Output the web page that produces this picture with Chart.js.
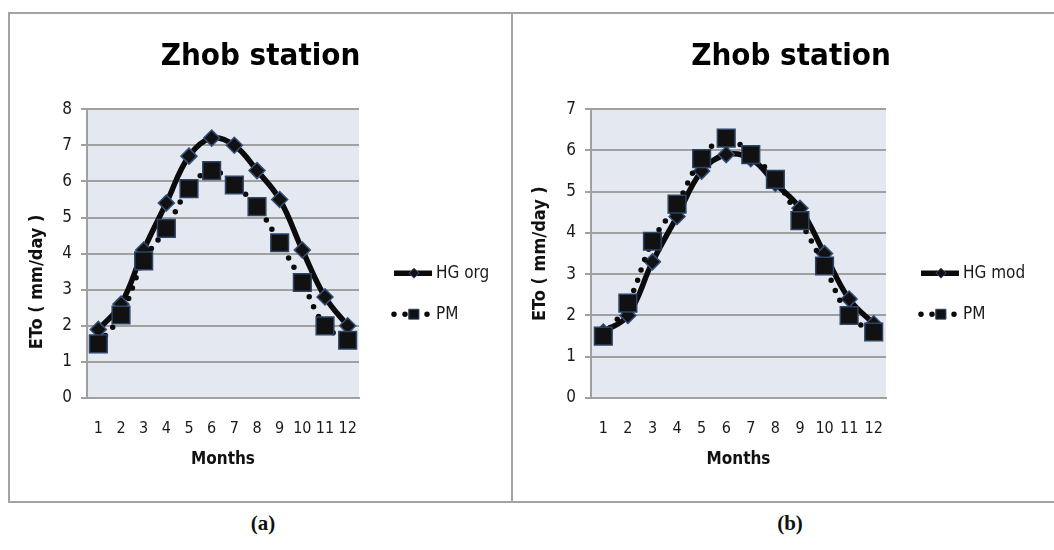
<!DOCTYPE html>
<html>
<head>
<meta charset="utf-8">
<title>Zhob station</title>
<script src="https://cdn.jsdelivr.net/npm/chart.js@4.4.1/dist/chart.umd.min.js"></script>
<style>
  body { margin: 0; background: #fff; width: 1054px; height: 550px; overflow: hidden; position: relative; }
  .frame { position: absolute; left: 8px; top: 12px; width: 1100px; height: 491px; border: 2px solid #a3a3a3; box-sizing: border-box; }
  .divider { position: absolute; left: 511px; top: 12px; width: 2px; height: 491px; background: #a3a3a3; }
  canvas { position: absolute; top: 14px; }
  #chartA { left: 10px; }
  #chartB { left: 513px; }
  .cap { position: absolute; top: 511px; font: bold 21px 'Liberation Serif', 'DejaVu Serif', serif; color: #111; transform: translateX(-50%); }
</style>
</head>
<body>
<div class="frame"></div>
<div class="divider"></div>
<canvas id="chartA" width="501" height="487"></canvas>
<canvas id="chartB" width="556" height="487"></canvas>
<div class="cap" style="left:263px">(a)</div>
<div class="cap" style="left:790px">(b)</div>

<script>
const months = ['1', '2', '3', '4', '5', '6', '7', '8', '9', '10', '11', '12']

// ETo (mm/day)
const hgOrg = [1.9, 2.6, 4.1, 5.4, 6.7, 7.2, 7.0, 6.3, 5.5, 4.1, 2.8, 2.0]
const hgMod = [1.6, 2.0, 3.3, 4.4, 5.5, 5.9, 5.8, 5.2, 4.6, 3.5, 2.4, 1.8]
const pm = [1.5, 2.3, 3.8, 4.7, 5.8, 6.3, 5.9, 5.3, 4.3, 3.2, 2.0, 1.6]

const yMaxA = 8
const yMaxB = 7

const FONT = "'Liberation Sans Narrow', 'DejaVu Sans Condensed', 'Open Sans', sans-serif"
const GRID = '#a0a0a0'

// light blue-grey plot background
const plotBg = {
    id: 'plotBg',
    beforeDraw(chart) {
        const {ctx, chartArea: a} = chart
        ctx.save()
        ctx.fillStyle = '#e4e8f1'
        ctx.fillRect(a.left, a.top, a.right - a.left, a.bottom - a.top)
        ctx.restore()
    },
}

// Excel style legend on the right: line sample + marker + label
const sideLegend = {
    id: 'sideLegend',
    afterDraw(chart, args, opts) {
        const {ctx, chartArea: a} = chart
        const x0 = a.right + opts.gap
        chart.data.datasets.forEach((ds, i) => {
            const y = a.top + opts.firstRow + i * opts.rowGap
            ctx.save()
            ctx.strokeStyle = ds.borderColor
            ctx.lineWidth = ds.borderWidth
            ctx.lineCap = ds.borderCapStyle || 'butt'
            ctx.setLineDash(ds.borderDash || [])
            ctx.beginPath()
            ctx.moveTo(x0 + 2, y)
            ctx.lineTo(x0 + 40, y)
            ctx.stroke()
            ctx.setLineDash([])
            ctx.fillStyle = ds.pointBackgroundColor
            ctx.strokeStyle = ds.pointBorderColor
            ctx.lineWidth = 1
            Chart.helpers.drawPoint(ctx, {pointStyle: ds.pointStyle, radius: ds.legendRadius, rotation: 0, borderWidth: 1}, x0 + 22, y)
            ctx.fillStyle = '#1a1a1a'
            ctx.font = '17px ' + FONT
            ctx.textBaseline = 'middle'
            ctx.fillText(ds.label, x0 + 44, y)
            ctx.restore()
        })
    },
}

function makeChart(id, hgLabel, hgData, yMax, yTitle, yWidth, rightPad) {
    const canvas = document.getElementById(id)
    return new Chart(canvas, {
        type: 'line',
        data: {
            labels: months,
            datasets: [
                {
                    label: hgLabel,
                    data: hgData,
                    borderColor: '#0b0b0b',
                    borderWidth: 5.5,
                    tension: 0.4,
                    pointStyle: 'rectRot',
                    pointRadius: 8,
                    pointBackgroundColor: '#111',
                    pointBorderColor: '#34507a',
                    pointBorderWidth: 1.5,
                    legendRadius: 5,
                    order: 1,
                },
                {
                    label: 'PM',
                    data: pm,
                    borderColor: '#0b0b0b',
                    borderWidth: 5.5,
                    borderDash: [0, 11],
                    borderCapStyle: 'round',
                    tension: 0.4,
                    pointStyle: 'rect',
                    pointRadius: 12.5,
                    pointBackgroundColor: '#111',
                    pointBorderColor: '#2d4466',
                    pointBorderWidth: 1.5,
                    legendRadius: 7,
                    order: 0,
                },
            ],
        },
        options: {
            responsive: false,
            animation: false,
            layout: {padding: 0},
            plugins: {
                legend: {display: false},
                tooltip: {enabled: false},
                title: {
                    display: true,
                    text: 'Zhob station',
                    color: '#000',
                    font: {family: FONT, size: 31, weight: 'bold'},
                    padding: {top: 24, bottom: 34},
                },
                sideLegend: {gap: 33, firstRow: 164, rowGap: 41},
            },
            scales: {
                x: {
                    offset: true,
                    grid: {display: false, drawTicks: false},
                    border: {display: true, color: GRID, width: 2},
                    ticks: {color: '#1a1a1a', font: {family: FONT, size: 16}, padding: 21, maxRotation: 0, autoSkip: false},
                    title: {display: true, text: 'Months', color: '#111', font: {family: FONT, size: 17, weight: 'bold'}, padding: {top: 0, bottom: 31}},
                    afterFit(scale) { scale.height = 103 },
                },
                y: {
                    min: 0,
                    max: yMax,
                    grid: {color: GRID, lineWidth: 2, tickLength: 6},
                    border: {display: true, color: GRID, width: 2},
                    ticks: {stepSize: 1, color: '#1a1a1a', font: {family: FONT, size: 17}, padding: 9},
                    title: {display: true, text: yTitle, color: '#111', font: {family: FONT, size: 18, weight: 'bold'}, padding: {top: 17, bottom: 0}},
                    afterFit(scale) { scale.width = yWidth },
                },
                // empty right-hand box that leaves room for the legend
                legendSpace: {
                    type: 'linear',
                    position: 'right',
                    grid: {display: false, drawTicks: false},
                    border: {display: false},
                    ticks: {display: false},
                    afterFit(scale) { scale.width = rightPad },
                },
            },
        },
        plugins: [plotBg, sideLegend],
    })
}

const chartA = makeChart('chartA', 'HG org', hgOrg, yMaxA, 'ETo ( mm/day )\u2003\u2003\u2003\u2002', 77, 152)
const chartB = makeChart('chartB', 'HG mod', hgMod, yMaxB, 'ETo ( mm/day )', 78, 183)
</script>
</body>
</html>
